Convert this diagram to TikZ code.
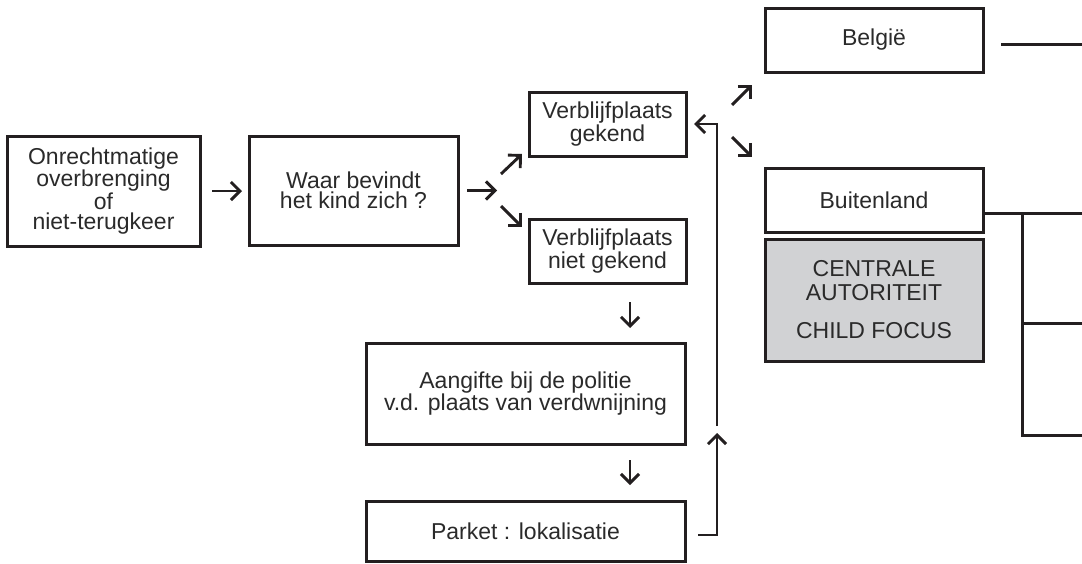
\documentclass[tikz,border=0pt]{standalone}
\usepackage{fontspec}
\setmainfont{Liberation Sans}
\usetikzlibrary{arrows.meta}
\definecolor{linec}{HTML}{231F20}
\definecolor{txt}{HTML}{2A2A2A}
\definecolor{graybg}{HTML}{D1D2D4}
\begin{document}
\begin{tikzpicture}[x=1pt,y=-1pt,
  box/.style={draw=linec, line width=3pt, inner sep=0pt, align=center, text=txt,
    font=\fontsize{23}{20}\selectfont},
  arr/.style={draw=linec, line width=2.9pt, -{Straight Barb[length=9pt,width=18pt]}},
  conn/.style={draw=linec, line width=3pt}]
\useasboundingbox (0,0) rectangle (1082,563);
% boxes
\node[box, minimum width=193pt, minimum height=110pt] (b1) at (103.5,191) {Onrechtmatige\\overbrenging\\of\\niet-terugkeer};
\node[box, minimum width=209pt, minimum height=109pt] (b2) at (353.5,190.5) {Waar bevindt\\het kind zich ?};
\node[box, minimum width=157pt, minimum height=64pt] (vg) at (607.5,124) {Verblijfplaats\\gekend};
\node[box, minimum width=157pt, minimum height=64pt] (vng) at (607.5,251) {Verblijfplaats\\niet gekend};
\node[box, minimum width=319pt, minimum height=101pt] (aang) at (525.5,393.5) {Aangifte bij de politie\\v.d. plaats van verdwnijning};
\node[box, minimum width=319pt, minimum height=60pt] (park) at (525.5,531) {Parket : lokalisatie};
\node[box, minimum width=218pt, minimum height=64pt] (bel) at (874,40) {België};
\node[box, minimum width=218pt, minimum height=64pt] (buit) at (874,200) {Buitenland};
\node[box, fill=graybg, minimum width=218pt, minimum height=122pt] (cafc) at (874,300) {CENTRALE\\[4pt]AUTORITEIT\\[18pt]CHILD FOCUS};
% free-standing arrows
\coordinate (a1s) at (212,191); \coordinate (a1e) at (242,191);
\coordinate (a2s) at (467,190.5); \coordinate (a2e) at (497,190.5);
\coordinate (a3s) at (501,174); \coordinate (a3e) at (522,154);
\coordinate (a4s) at (501,206); \coordinate (a4e) at (522,227);
\coordinate (a5s) at (732,105); \coordinate (a5e) at (752,85);
\coordinate (a6s) at (732,137); \coordinate (a6e) at (752,157);
\coordinate (a7s) at (630,302); \coordinate (a7e) at (630,328);
\coordinate (a8s) at (630,460); \coordinate (a8e) at (630,485);
\draw[arr] (a1s) -- (a1e);
\draw[arr] (a2s) -- (a2e);
\draw[arr] (a3s) -- (a3e);
\draw[arr] (a4s) -- (a4e);
\draw[arr] (a5s) -- (a5e);
\draw[arr] (a6s) -- (a6e);
\draw[arr] (a7s) -- (a7e);
\draw[arr] (a8s) -- (a8e);
% return path
\coordinate (r0) at (698,535); \coordinate (r1) at (717,535); \coordinate (r2) at (717,433);
\coordinate (r3) at (717,426); \coordinate (r4) at (717,124); \coordinate (r5) at (694,124);
\draw[arr] (r0) -- (r1) -- (r2);
\draw[arr] (r3) -- (r4) -- (r5);
% right-hand connectors
\coordinate (bl0) at (1001,44); \coordinate (bl1) at (1082,44);
\coordinate (bu0) at (983,213); \coordinate (bu1) at (1082,213);
\coordinate (v0) at (1022,213); \coordinate (v1) at (1022,435);
\coordinate (h2a) at (1022,323); \coordinate (h2b) at (1082,323);
\coordinate (h3b) at (1082,435);
\draw[conn] (bl0) -- (bl1);
\draw[conn] (bu0) -- (bu1);
\draw[conn] (v0) -- (v1) -- (h3b);
\draw[conn] (h2a) -- (h2b);
\end{tikzpicture}
\end{document}
